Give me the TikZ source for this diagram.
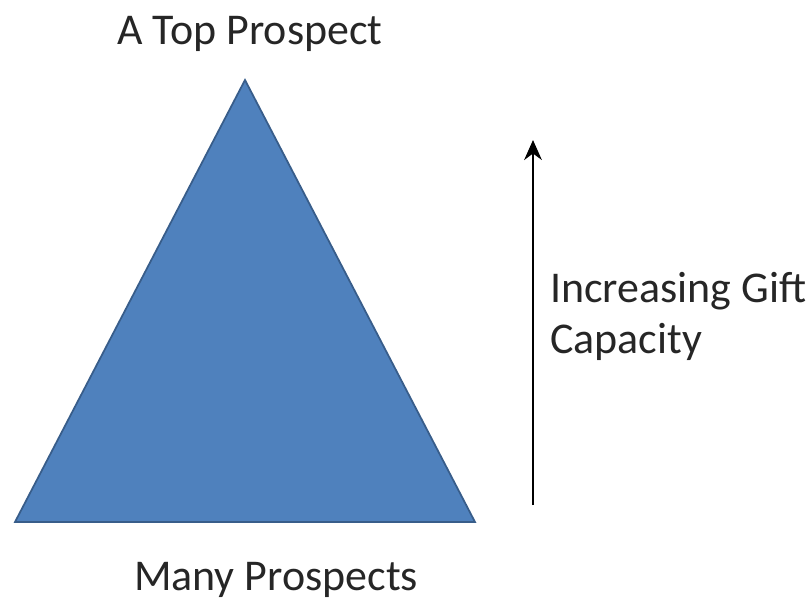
\documentclass[tikz,border=0pt]{standalone}
\usepackage{fontspec}
\setmainfont{Carlito}
\usetikzlibrary{arrows.meta}
\definecolor{pyrfill}{HTML}{4F81BD}
\definecolor{pyredge}{HTML}{385D8A}
\tikzset{
	lbl/.style={font=\fontsize{37.5}{43}\selectfont, text=black!85, inner sep=0pt},
}
\begin{document}
\begin{tikzpicture}[x=0.03cm,y=-0.03cm]
	\useasboundingbox (0,0) rectangle (812,606);
	%pyramid
	\coordinate (top) at (245,80);
	\coordinate (bl) at (15,522);
	\coordinate (br) at (475,522);
	\draw [fill=pyrfill, draw=pyredge, line width=1.5pt, line join=miter] (top) -- (bl) -- (br) -- cycle;
	\node [lbl, anchor=base] (toplbl) at (250,44) {A Top Prospect};
	\node [lbl, anchor=base] (baselbl) at (276,590) {Many Prospects};
	%arrow
	\coordinate (arrlow) at (533,505);
	\coordinate (arrhigh) at (533,140);
	\draw [line width=2.4pt, -{Stealth[length=17pt,width=15pt]}] (arrlow) -- (arrhigh);
	\node [lbl, anchor=base west, align=left] (caplbl) at (550,353) {Increasing Gift\\Capacity};
\end{tikzpicture}
\end{document}
